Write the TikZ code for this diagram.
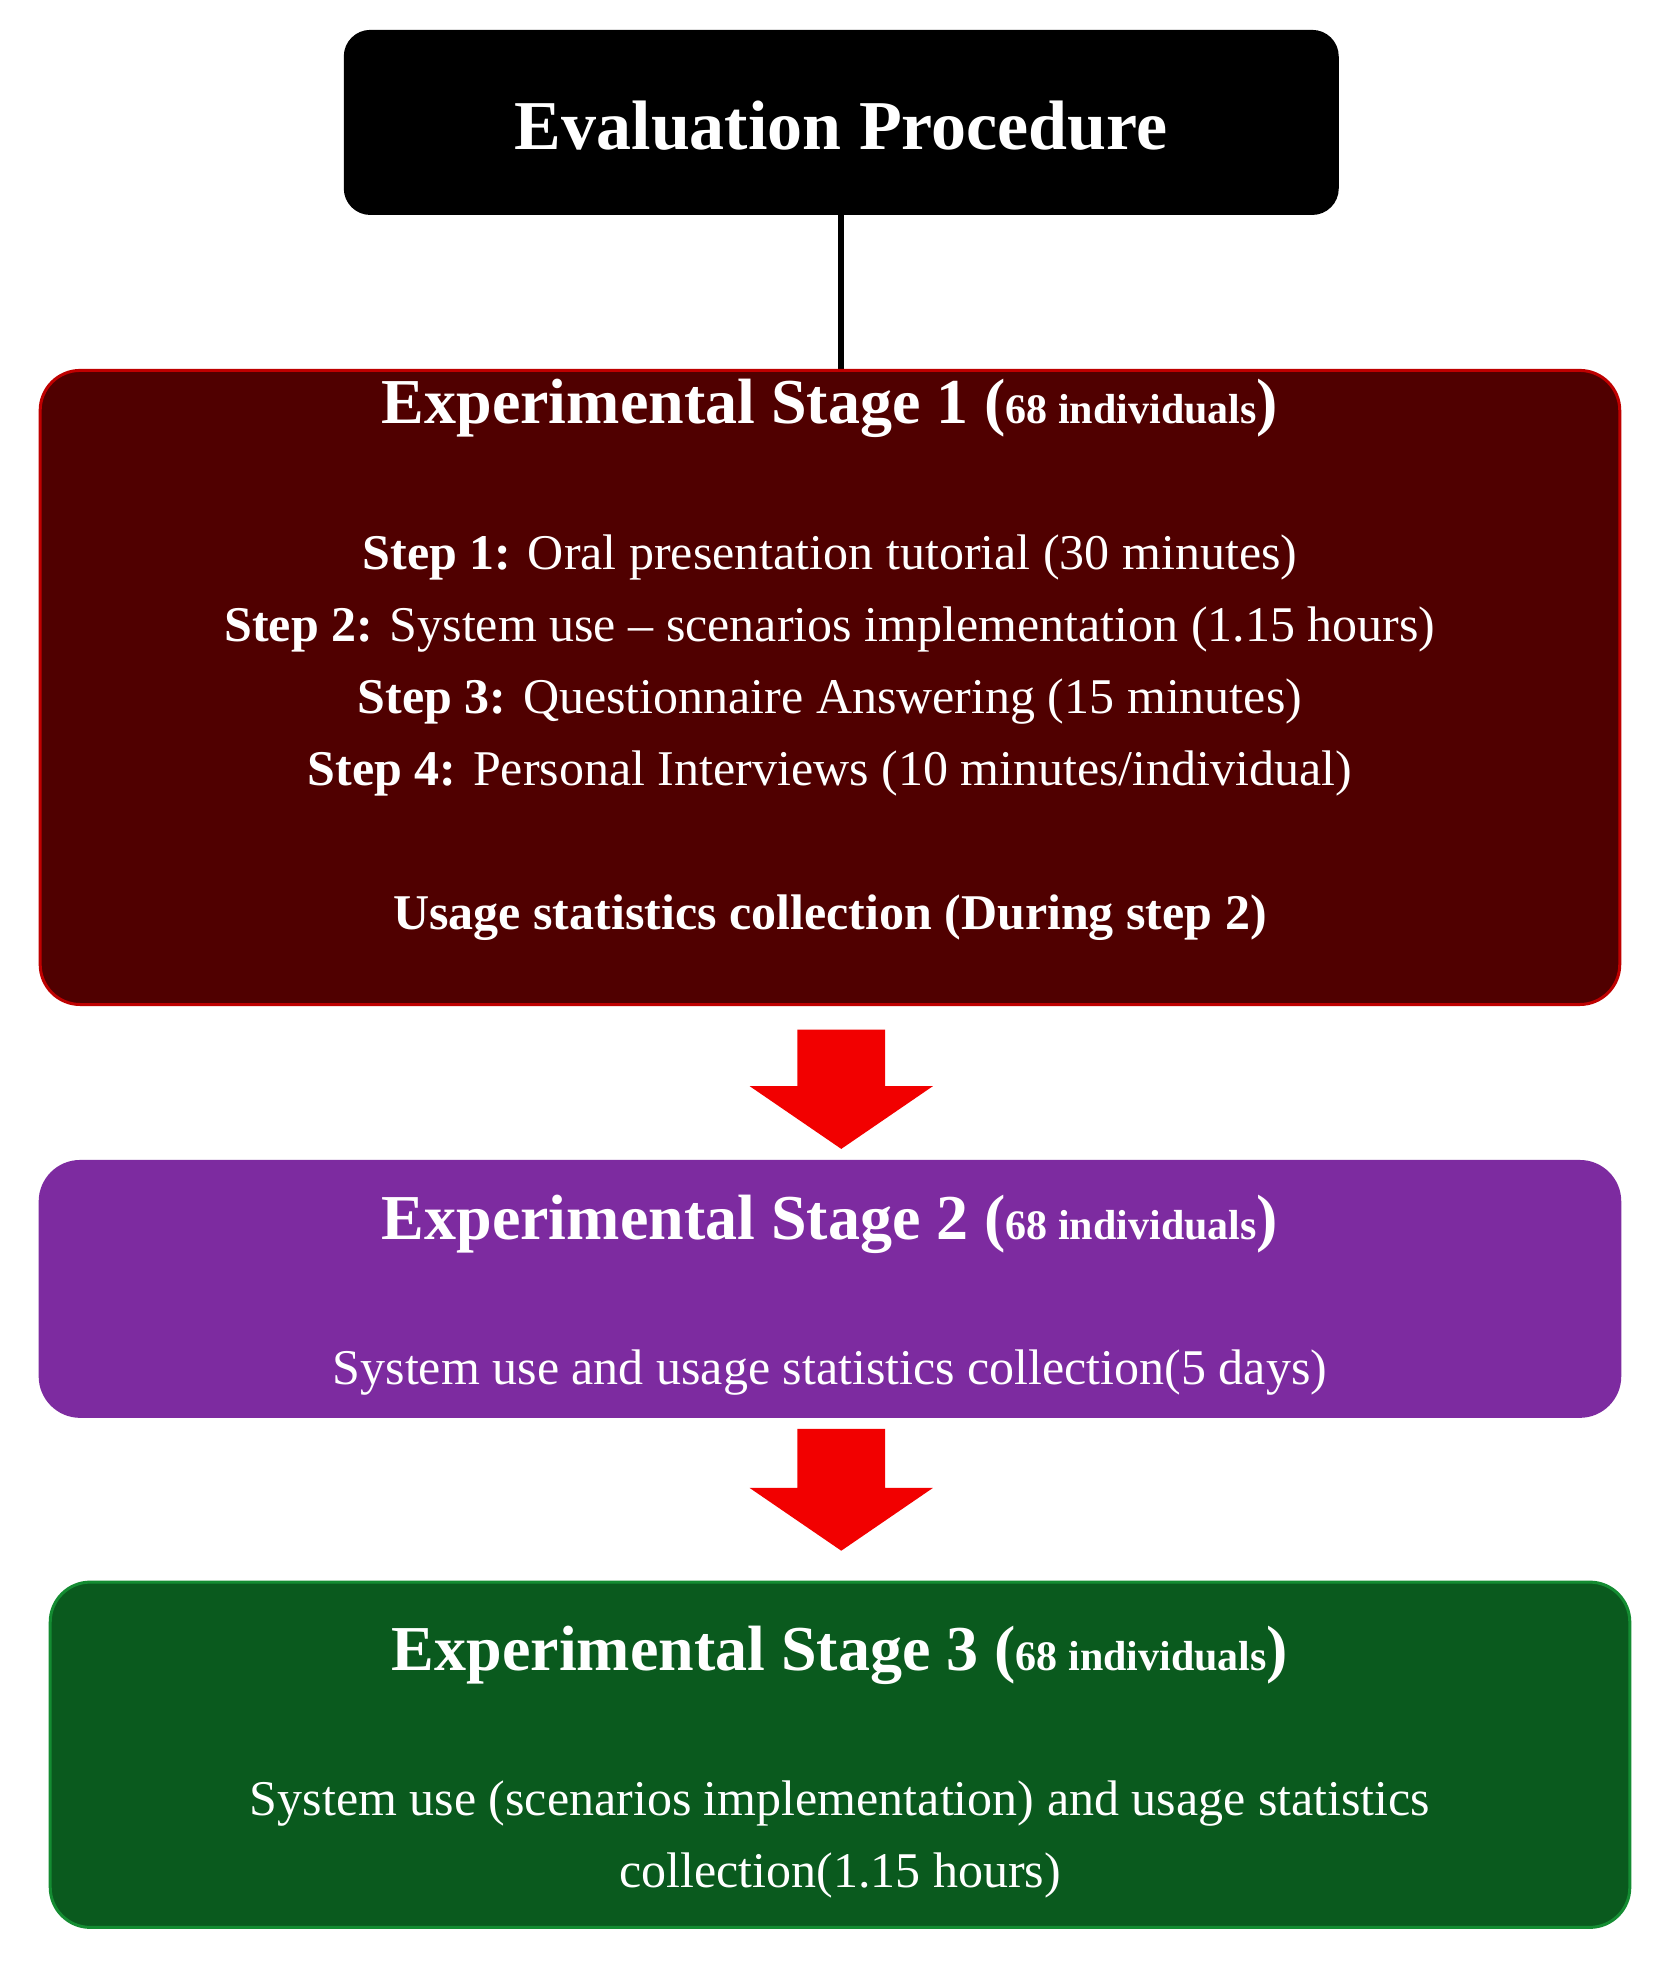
\documentclass[tikz,border=0pt]{standalone}
\usepackage{fontspec}
\setmainfont{Liberation Serif}
\begin{document}
\begin{tikzpicture}[x=1.2556pt,y=-1.2556pt,
 box/.style={draw, line width=3pt, rounded corners=40pt},
 arr/.style={fill=red!95!black, draw=none},
 hd/.style={text=white, font=\fontsize{64}{70}\selectfont\bfseries},
 bd/.style={text=white, font=\fontsize{50}{72}\selectfont, align=center}]
\useasboundingbox (0,0) rectangle (1330,1578.5);
\fill[white] (0,0) rectangle (1330,1578.5);
\draw[box, fill=black, draw=black, rounded corners=25pt] (275,25) rectangle (1065,170);
\node[hd] (t) at (670,100) {\fontsize{70}{76}\selectfont Evaluation Procedure};
\coordinate (t1) at (670,170);
\coordinate (t2) at (670,297);
\draw[line width=6pt] (t1) -- (t2);
\draw[box, fill=black!70!red!45!black, draw=red!75!black, fill={rgb,255:red,80;green,0;blue,0}] (32,295) rectangle (1290,800);
\node[hd] (h1) at (661,325) {Experimental Stage 1 (\fontsize{42}{50}\selectfont 68 individuals\fontsize{64}{70}\selectfont)};
\node[bd] (b1) at (661,530) {\textbf{Step 1:} Oral presentation tutorial (30 minutes)\\
\textbf{Step 2:} System use -- scenarios implementation (1.15 hours)\\
\textbf{Step 3:} Questionnaire Answering (15 minutes)\\
\textbf{Step 4:} Personal Interviews (10 minutes/individual)};
\node[bd] (u1) at (661,731) {\textbf{Usage statistics collection (During step 2)}};
\fill[arr] (635,820) -- (705,820) -- (705,865) -- (743,865) -- (670,915) -- (597,865) -- (635,865) -- cycle;
\draw[box, fill={rgb,255:red,125;green,43;blue,160}, draw={rgb,255:red,125;green,43;blue,160}] (32,925) rectangle (1290,1128);
\node[hd] (h2) at (661,975) {Experimental Stage 2 (\fontsize{42}{50}\selectfont 68 individuals\fontsize{64}{70}\selectfont)};
\node[bd] (b2) at (661,1093) {System use and usage statistics collection(5 days)};
\fill[arr] (635,1138) -- (705,1138) -- (705,1185) -- (743,1185) -- (670,1235) -- (597,1185) -- (635,1185) -- cycle;
\draw[box, fill={rgb,255:red,10;green,90;blue,30}, draw={rgb,255:red,20;green,140;blue,50}] (40,1260) rectangle (1298,1535);
\node[hd] (h3) at (669,1318) {Experimental Stage 3 (\fontsize{42}{50}\selectfont 68 individuals\fontsize{64}{70}\selectfont)};
\node[bd] (b3) at (669,1465) {System use (scenarios implementation) and usage statistics\\collection(1.15 hours)};
\end{tikzpicture}
\end{document}
